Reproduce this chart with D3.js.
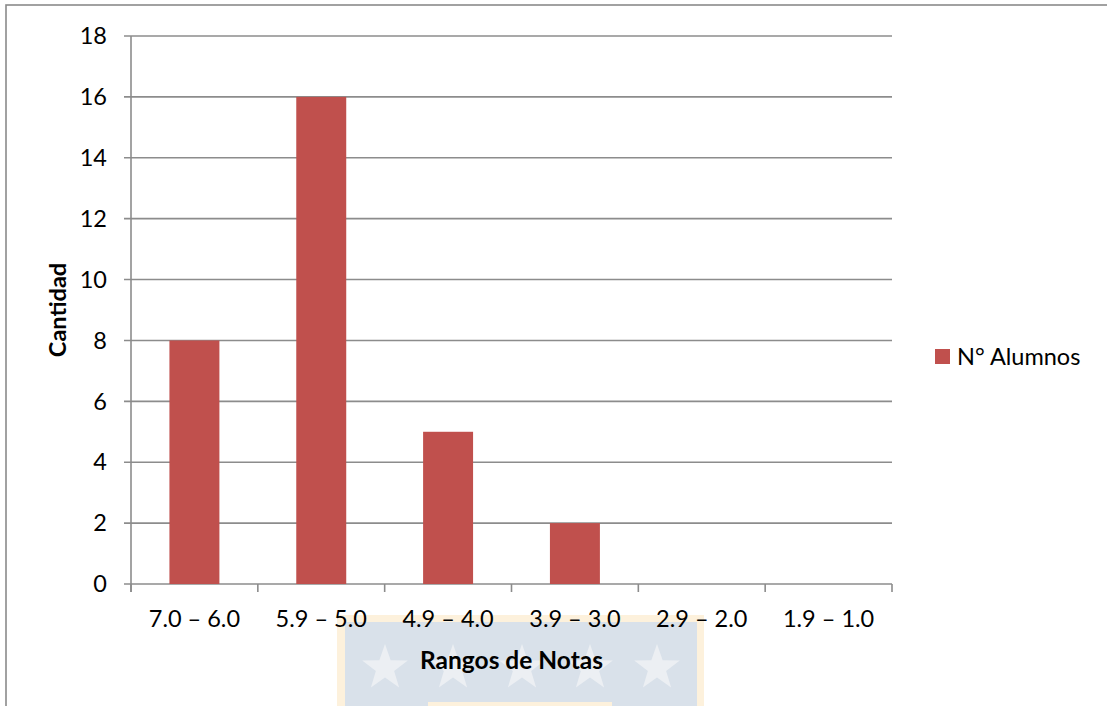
<!DOCTYPE html>
<html>
<head>
<meta charset="utf-8">
<script src="https://cdn.jsdelivr.net/npm/d3@7"></script>
<style>
  html, body { margin: 0; padding: 0; background: #ffffff; }
  svg { display: block; font-family: Lato, "Open Sans", sans-serif; }
</style>
</head>
<body>
<svg id="chart" width="1107" height="706"></svg>
<script>
// Distribución de notas: número de alumnos por rango
const categories = ["7.0 – 6.0", "5.9 – 5.0", "4.9 – 4.0", "3.9 – 3.0", "2.9 – 2.0", "1.9 – 1.0"];
const alumnos = [8, 16, 5, 2, 0, 0];
const yTicks = [0, 2, 4, 6, 8, 10, 12, 14, 16, 18];
const seriesName = "N° Alumnos";
const xTitle = "Rangos de Notas";
const yTitle = "Cantidad";

const W = 1107, H = 706;
const plot = { left: 131, right: 892, top: 36, bottom: 584 };
const gridColor = "#8c8c8c";
const barColor = "#c0504d";
const fontSize = 23.5;

const svg = d3.select("#chart");

// marco exterior del gráfico
svg.append("rect")
  .attr("x", 6).attr("y", 5)
  .attr("width", W + 10).attr("height", H + 10)
  .attr("fill", "none").attr("stroke", "#8a8a8a").attr("stroke-width", 1.6);

// sello de fondo del documento (franja con estrellas)
const wm = svg.append("g").attr("class", "sello");
wm.append("rect").attr("x", 337).attr("y", 615).attr("width", 367).attr("height", 100).attr("fill", "#fdf1dc");
wm.append("rect").attr("x", 345).attr("y", 622).attr("width", 352).attr("height", 100).attr("fill", "#d9e1ea");
wm.append("rect").attr("x", 428).attr("y", 702).attr("width", 184).attr("height", 10).attr("fill", "#fdf1dc");
const starPath = (cx, cy, R) => {
  const r = R * 0.40;
  const pts = d3.range(10).map(i => {
    const a = -Math.PI / 2 + i * Math.PI / 5;
    const rad = i % 2 === 0 ? R : r;
    return [cx + rad * Math.cos(a), cy + rad * Math.sin(a)];
  });
  return "M" + pts.map(p => p.join(",")).join("L") + "Z";
};
[385, 453, 522, 590, 657].forEach(cx => {
  wm.append("path").attr("d", starPath(cx, 668, 24)).attr("fill", "#eceff3");
});

// escalas
const x = d3.scaleBand()
  .domain(categories)
  .range([plot.left, plot.right])
  .paddingInner(0.606)
  .paddingOuter(0.303);
const xSlot = d3.scalePoint()
  .domain(d3.range(categories.length + 1))
  .range([plot.left, plot.right]);
const y = d3.scaleLinear().domain([0, 18]).range([plot.bottom, plot.top]);

// líneas de división horizontales
svg.append("g")
  .selectAll("line")
  .data(yTicks)
  .join("line")
  .attr("x1", plot.left - 7).attr("x2", plot.right)
  .attr("y1", d => y(d)).attr("y2", d => y(d))
  .attr("stroke", gridColor).attr("stroke-width", 1.6);

// eje vertical
svg.append("line")
  .attr("x1", plot.left).attr("x2", plot.left)
  .attr("y1", plot.top).attr("y2", plot.bottom + 8)
  .attr("stroke", gridColor).attr("stroke-width", 1.6);

// marcas del eje horizontal entre categorías
svg.append("g")
  .selectAll("line")
  .data(d3.range(categories.length + 1))
  .join("line")
  .attr("x1", d => xSlot(d)).attr("x2", d => xSlot(d))
  .attr("y1", plot.bottom).attr("y2", plot.bottom + 8)
  .attr("stroke", gridColor).attr("stroke-width", 1.6);

// barras
svg.append("g")
  .selectAll("rect")
  .data(categories.map((c, i) => ({ c, v: alumnos[i] })))
  .join("rect")
  .attr("x", d => x(d.c))
  .attr("width", x.bandwidth())
  .attr("y", d => y(d.v))
  .attr("height", d => y(0) - y(d.v))
  .attr("fill", barColor);

// rótulos del eje vertical
svg.append("g")
  .selectAll("text")
  .data(yTicks)
  .join("text")
  .attr("x", 107)
  .attr("y", d => y(d))
  .attr("dy", "0.35em")
  .attr("text-anchor", "end")
  .attr("font-size", fontSize)
  .attr("fill", "#000")
  .text(d => d);

// rótulos de categorías
svg.append("g")
  .selectAll("text")
  .data(categories)
  .join("text")
  .attr("x", d => x(d) + x.bandwidth() / 2)
  .attr("y", 627)
  .attr("text-anchor", "middle")
  .attr("font-size", fontSize)
  .attr("fill", "#000")
  .text(d => d);

// títulos de ejes
svg.append("text")
  .attr("x", (plot.left + plot.right) / 2)
  .attr("y", 669)
  .attr("text-anchor", "middle")
  .attr("font-size", 24.5)
  .attr("font-weight", "bold")
  .attr("fill", "#000")
  .text(xTitle);

svg.append("text")
  .attr("transform", `translate(66, ${(plot.top + plot.bottom) / 2}) rotate(-90)`)
  .attr("text-anchor", "middle")
  .attr("font-size", 23.5)
  .attr("font-weight", "bold")
  .attr("fill", "#000")
  .text(yTitle);

// leyenda
const lg = svg.append("g").attr("transform", "translate(935, 349)");
lg.append("rect").attr("width", 15).attr("height", 15).attr("fill", barColor);
lg.append("text")
  .attr("x", 22).attr("y", 16)
  .attr("font-size", fontSize)
  .attr("fill", "#000")
  .text(seriesName);
</script>
</body>
</html>
